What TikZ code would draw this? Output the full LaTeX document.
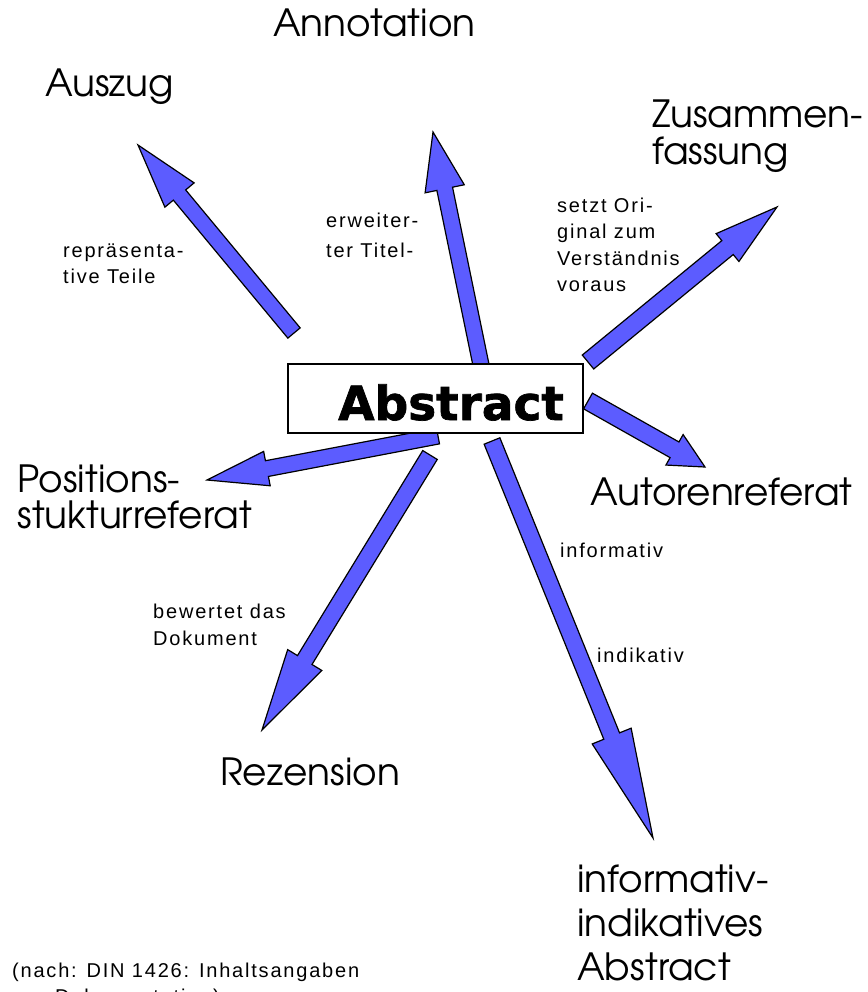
\documentclass[tikz,border=0pt]{standalone}
\usepackage{fontspec}
\usetikzlibrary{calc}
\newfontfamily\gothic{TeX Gyre Adventor}
\newfontfamily\smallsans[LetterSpace=9]{Liberation Sans}
\newfontfamily\heavysans[FakeBold=1.5]{DejaVu Sans Bold}
\definecolor{arrowblue}{RGB}{92,92,255}
\tikzset{
  bigl/.style={font=\gothic\fontsize{37.5}{37.5}\selectfont, inner sep=0pt, anchor=base west},
  smalll/.style={font=\smallsans\fontsize{20}{20}\selectfont, inner sep=0pt, anchor=base west},
  blockarrow/.style={fill=arrowblue, draw=black, line width=1.2pt, line join=miter},
  absbox/.style={draw=black, fill=white, line width=1.5pt},
}
% #1 name, #2 tail, #3 tip, #4 half shaft, #5 half head, #6 head length
\newcommand{\blockarrow}[6]{%
  \coordinate (#1h) at ($(#3)!#6!(#2)$);
  \draw[blockarrow] ($(#2)!#4!90:(#3)$) -- ($(#1h)!#4!90:(#3)$) -- ($(#1h)!#5!90:(#3)$) -- (#3)
    -- ($(#1h)!#5!-90:(#3)$) -- ($(#1h)!#4!-90:(#3)$) -- ($(#2)!#4!-90:(#3)$) -- cycle;
}
\begin{document}
\begin{tikzpicture}[x=1pt,y=-1pt]
\clip (0,0) rectangle (867,992);
\fill[white] (0,0) rectangle (867,992);

% arrow end points
\coordinate (auszT) at (294,333);  \coordinate (auszP) at (138,145);
\coordinate (annoT) at (481,365);  \coordinate (annoP) at (433,132);
\coordinate (zusT)  at (588,362);  \coordinate (zusP)  at (777,207);
\coordinate (autT)  at (588,401);  \coordinate (autP)  at (705,467);
\coordinate (infT)  at (492,441);  \coordinate (infP)  at (653,838);
\coordinate (posT)  at (438,436);  \coordinate (posP)  at (207,480);
\coordinate (rezT)  at (430,455);  \coordinate (rezP)  at (262,730);

\blockarrow{ausz}{auszT}{auszP}{8pt}{19pt}{65pt}
\blockarrow{anno}{annoT}{annoP}{8pt}{20pt}{58pt}
\blockarrow{zus}{zusT}{zusP}{9pt}{18pt}{64pt}
\blockarrow{aut}{autT}{autP}{9pt}{17.5pt}{35pt}
\blockarrow{inf}{infT}{infP}{8.5pt}{21pt}{110pt}
\blockarrow{pos}{posT}{posP}{8pt}{17.5pt}{61pt}
\blockarrow{rez}{rezT}{rezP}{8.5pt}{20pt}{82pt}

% central box
\draw[absbox] (288,364) rectangle (583,433);
\node[anchor=base west, inner sep=0pt, font=\heavysans\fontsize{47}{47}\selectfont] (abs) at (338,420) {Abstract};

% big labels
\node[bigl] (anno) at (273,37) {Annotation};
\node[bigl] (ausz) at (45,97) {Auszug};
\node[bigl] (zus1) at (652,128) {Zusammen-};
\node[bigl] (zus2) at (652,165) {fassung};
\node[bigl] (pos1) at (17,492) {Positions-};
\node[bigl] (pos2) at (17,528) {stukturreferat};
\node[bigl] (aut)  at (590,505) {Autorenreferat};
\node[bigl] (rez)  at (220,785) {Rezension};
\node[bigl] (inf1) at (577,892) {informativ-};
\node[bigl] (inf2) at (577,936) {indikatives};
\node[bigl] (inf3) at (577,980) {Abstract};

% small labels
\node[smalll] (rep1) at (63,258) {repräsenta-};
\node[smalll] (rep2) at (63,283) {tive Teile};
\node[smalll] (erw1) at (326,228) {erweiter-};
\node[smalll] (erw2) at (326,257) {ter Titel-};
\node[smalll] (set1) at (557,213) {setzt Ori-};
\node[smalll] (set2) at (557,239) {ginal zum};
\node[smalll] (set3) at (557,265) {Verständnis};
\node[smalll] (set4) at (557,291) {voraus};
\node[smalll] (infl) at (560,557) {informativ};
\node[smalll] (indl) at (597,662) {indikativ};
\node[smalll] (bew1) at (153,618) {bewertet das};
\node[smalll] (bew2) at (153,645) {Dokument};
\node[smalll] (note1) at (12,977) {(nach: DIN 1426: Inhaltsangaben};
\node[smalll] (note2) at (55,1003) {Dokumentation)};
\end{tikzpicture}
\end{document}
